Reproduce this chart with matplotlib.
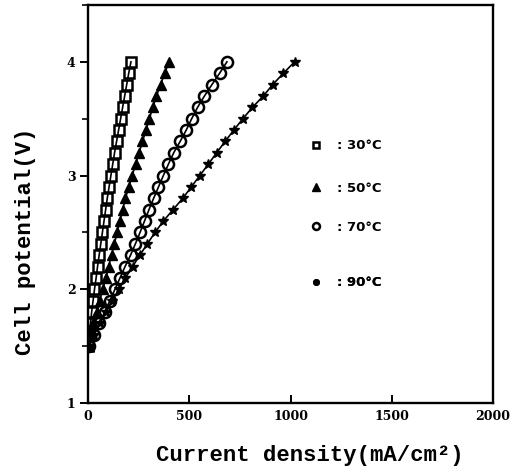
import matplotlib
matplotlib.use("Agg")
import matplotlib.pyplot as plt
from matplotlib.lines import Line2D
from matplotlib.ticker import MultipleLocator

# ---- data ----
potential = [1.5, 1.6, 1.7, 1.8, 1.9, 2.0, 2.1, 2.2, 2.3, 2.4, 2.5, 2.6, 2.7,
             2.8, 2.9, 3.0, 3.1, 3.2, 3.3, 3.4, 3.5, 3.6, 3.7, 3.8, 3.9, 4.0]
i_30 = [2, 6, 12, 18, 25, 32, 40, 47, 55, 63, 71, 79, 87,
        95, 104, 113, 122, 131, 141, 151, 161, 171, 181, 191, 201, 212]
i_50 = [3, 13, 26, 42, 58, 73, 88, 102, 116, 130, 144, 157, 171,
        185, 201, 218, 235, 252, 269, 286, 303, 320, 338, 358, 379, 400]
i_70 = [5, 28, 55, 82, 108, 133, 158, 183, 210, 234, 257, 279, 301,
        324, 348, 372, 397, 423, 455, 485, 512, 541, 575, 612, 650, 686]
i_90 = [5, 30, 58, 88, 120, 152, 185, 220, 256, 293, 331, 372, 420,
        468, 510, 552, 594, 635, 677, 720, 765, 812, 866, 912, 965, 1020]
labels = [": 30°C", ": 50°C", ": 70°C", ": 90°C"]
x_ticks = [0, 500, 1000, 1500, 2000]
x_ticklabels = ["0", "500", "1000", "1500", "2000"]
y_ticks = [1, 2, 3, 4]

fig = plt.figure(figsize=(5.28, 4.76), dpi=100)
ax = fig.add_axes([0.1667, 0.1534, 0.767, 0.8361])

lw = 1.2
ax.plot(i_30, potential, color="black", lw=lw, marker="s", ms=6.5, mfc="none", mew=1.8)
ax.plot(i_50, potential, color="black", lw=lw, marker="^", ms=7.5, mfc="black", mew=1.0)
ax.plot(i_70, potential, color="black", lw=lw, marker="o", ms=8, mfc="none", mew=1.8)
ax.plot(i_90, potential, color="black", lw=lw, marker="*", ms=7, mfc="black", mew=1.0)

ax.set_xlim(0, 2000)
ax.set_ylim(1, 4.5)
ax.set_xticks(x_ticks)
ax.set_xticklabels(x_ticklabels)
ax.set_yticks(y_ticks)
ax.yaxis.set_minor_locator(MultipleLocator(0.5))

for s in ax.spines.values():
    s.set_linewidth(1.7)

ax.tick_params(axis="x", direction="in", length=6, width=1.4, pad=5)
ax.tick_params(axis="y", which="major", direction="out", length=6, width=1.4, pad=3)
ax.tick_params(axis="y", which="minor", direction="out", length=4, width=1.2)
for lab in ax.get_xticklabels() + ax.get_yticklabels():
    lab.set_fontweight("heavy")
    lab.set_fontsize(9)
    lab.set_family("DejaVu Serif")

ax.set_xlabel("Current density(mA/cm²)", fontsize=16, fontweight="bold",
              family="Liberation Mono")
ax.set_ylabel("Cell potential(V)", fontsize=16, fontweight="bold",
              family="Liberation Mono")
ax.xaxis.set_label_coords(0.548, -0.105)
ax.yaxis.set_label_coords(-0.128, 0.405)

handles = [
    Line2D([], [], ls="none", marker="s", ms=4.5, mfc="none", mec="black", mew=1.8),
    Line2D([], [], ls="none", marker="^", ms=6, mfc="black", mec="black"),
    Line2D([], [], ls="none", marker="o", ms=5, mfc="none", mec="black", mew=1.8),
    Line2D([], [], ls="none", marker="o", ms=4, mfc="black", mec="black"),
]
leg_font = {"weight": "bold", "size": 9.5, "family": "DejaVu Sans"}
leg_y = [0.646, 0.540, 0.442, 0.302]
for h, lab, yy in zip(handles, labels, leg_y):
    lg = ax.legend([h], [lab], loc="center left", bbox_to_anchor=(0.55, yy),
                   frameon=False, prop=leg_font, handlelength=0.8,
                   handletextpad=1.2, borderpad=0, borderaxespad=0)
    ax.add_artist(lg)

fig.savefig("out.png", dpi=100)
